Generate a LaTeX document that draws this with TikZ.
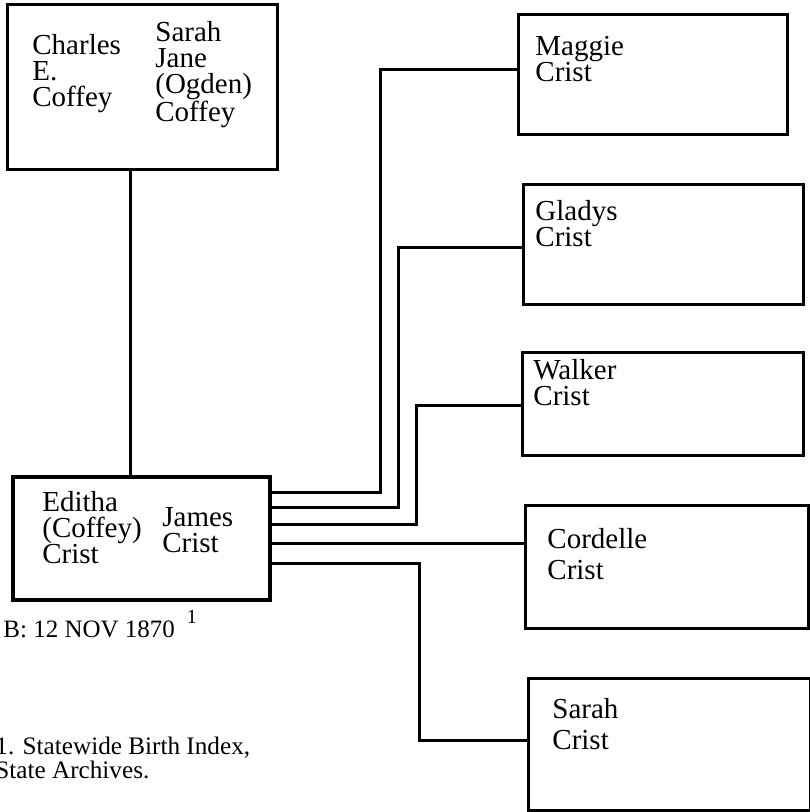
\documentclass[tikz,border=0pt]{standalone}
\usepackage{fontspec}
\setmainfont{Liberation Serif}
\begin{document}
\begin{tikzpicture}[
    x=0.5pt, y=-0.5pt,
    box/.style={draw, line width=1.5pt, anchor=north west, inner sep=0pt, outer sep=0pt},
    couplebox/.style={box, line width=2.3pt},
    person/.style={anchor=base west, align=left, inner sep=0pt, font=\fontsize{14.5}{13}\selectfont},
    loose/.style={person, font=\fontsize{14.5}{15.5}\selectfont},
    link/.style={line width=1.5pt}
]
\useasboundingbox (0,0) rectangle (809,812);

\node[box, minimum width=135pt, minimum height=82.5pt] (parents) at (7,5) {};
\node[person] (charles) at (32,107) {Charles\\E.\\Coffey};
\node[person] (sarahjane) at (155,122) {Sarah\\Jane\\(Ogden)\\Coffey};

\node[couplebox, minimum width=128.5pt, minimum height=61.5pt] (couple) at (13,477) {};
\node[person] (editha) at (42,563) {Editha\\(Coffey)\\Crist};
\node[person] (james) at (162,552) {James\\Crist};
\node[person, font=\fontsize{12.5}{12.5}\selectfont] (birth) at (3,637) {B: 12 NOV 1870\hspace{6pt}\raisebox{7pt}{\fontsize{10}{10}\selectfont 1}};
\node[person, font=\fontsize{12.6}{10.5}\selectfont] (source) at (-5,778) {1. Statewide Birth Index,\\State Archives.};

\node[box, minimum width=134.5pt, minimum height=60pt] (maggie) at (518,15) {};
\node[person] (maggiename) at (535,82) {Maggie\\Crist};
\node[box, minimum width=140pt, minimum height=59.5pt] (gladys) at (523,185) {};
\node[person] (gladysname) at (535,247) {Gladys\\Crist};
\node[box, minimum width=140.5pt, minimum height=51.5pt] (walker) at (522,352) {};
\node[person] (walkername) at (533,405) {Walker\\Crist};
\node[box, minimum width=141.5pt, minimum height=61.5pt] (cordelle) at (525,505) {};
\node[loose] (cordellename) at (547,579) {Cordelle\\Crist};
\node[box, minimum width=141pt, minimum height=66pt] (sarah) at (528,678) {};
\node[loose] (sarahname) at (552,749) {Sarah\\Crist};

\draw[link] (parents.south -| 130,0) -- (couple.north -| 130,0);
\draw[link] (couple.east |- 0,492) -| (380,70) -- (maggie.west |- 0,70);
\draw[link] (couple.east |- 0,507) -| (398,248) -- (gladys.west |- 0,248);
\draw[link] (couple.east |- 0,524) -| (416,405) -- (walker.west |- 0,405);
\draw[link] (couple.east |- 0,543) -- (cordelle.west |- 0,543);
\draw[link] (couple.east |- 0,563) -| (419,740) -- (sarah.west |- 0,740);
\end{tikzpicture}
\end{document}
